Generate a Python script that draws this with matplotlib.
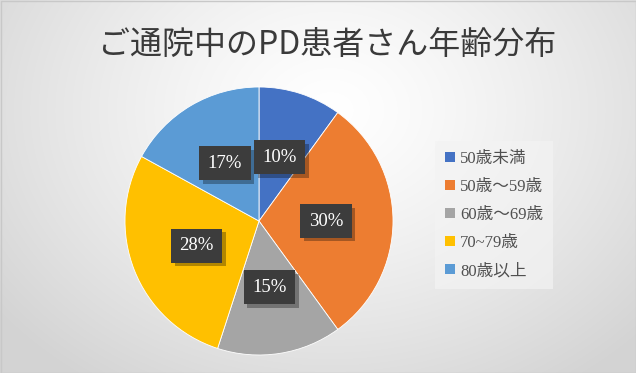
import numpy as np
import matplotlib
matplotlib.use("Agg")
import matplotlib.pyplot as plt
from matplotlib.patches import Patch, Rectangle
import matplotlib.patheffects as pe

title = "ご通院中のPD患者さん年齢分布"
categories = ["50歳未満", "50歳～59歳", "60歳～69歳", "70~79歳", "80歳以上"]
values = [10, 30, 15, 28, 17]
labels = ["10%", "30%", "15%", "28%", "17%"]
colors = ["#4472C4", "#ED7D31", "#A5A5A5", "#FFC000", "#5B9BD5"]

W, H = 636, 373
fig = plt.figure(figsize=(W / 100, H / 100), dpi=100)

# background radial gradient
bg = fig.add_axes([0, 0, 1, 1])
yy, xx = np.mgrid[0:H, 0:W]
cx, cy = 330, 110
d = np.sqrt(((xx - cx) / 420.0) ** 2 + ((yy - cy) / 330.0) ** 2)
d = np.clip(d, 0, 1)
val = 1.0 - 0.17 * d ** 1.3
img = np.dstack([val, val, val])
bg.imshow(img, extent=[0, W, H, 0], aspect="auto", interpolation="bilinear")
bg.set_xlim(0, W)
bg.set_ylim(H, 0)
bg.axis("off")
bg.add_patch(Rectangle((0.5, 0.5), W - 1, H - 1, fill=False, ec="#c8c8c8", lw=1))

# title
fig.text(327 / W, 1 - 45 / H, title, ha="center", va="center", fontsize=23,
         color="#3a3a3a", family=["Noto Sans CJK JP", "DejaVu Sans"])

# pie
cxp, cyp, r = 259, 221, 134
ax = fig.add_axes([(cxp - r) / W, (H - cyp - r) / H, 2 * r / W, 2 * r / H])
wedges, _ = ax.pie(values, colors=colors, startangle=90, counterclock=False,
                   radius=1.0, wedgeprops=dict(linewidth=0.6, edgecolor="white"))
ax.set_xlim(-1, 1)
ax.set_ylim(-1, 1)
ax.set_aspect("equal")
ax.axis("off")

# labels
start = 90.0
total = float(sum(values))
for v, lab in zip(values, labels):
    span = 360.0 * v / total
    mid = np.deg2rad(start - span / 2)
    start -= span
    x, y = 0.5 * np.cos(mid), 0.5 * np.sin(mid)
    t = ax.text(x, y, lab, ha="center", va="center", fontsize=13.5, color="white",
                family=["Liberation Serif"],
                bbox=dict(boxstyle="square,pad=0.45", fc="#3c3c3c", ec="none"))
    t.get_bbox_patch().set_path_effects([
        pe.SimplePatchShadow(offset=(2.5, -2.5), shadow_rgbFace="black", alpha=0.3),
        pe.Normal()])

# legend
handles = [Patch(facecolor=c, edgecolor="none") for c in colors]
leg = fig.legend(handles, categories, loc="upper left",
                 bbox_to_anchor=(435 / W, 1 - 141 / H), borderaxespad=0,
                 prop={"family": ["Liberation Serif", "Noto Sans CJK JP"], "size": 12},
                 frameon=True, fancybox=False, handlelength=0.6, handleheight=0.6,
                 handletextpad=0.3, labelspacing=0.72, borderpad=0.6)
leg.get_frame().set_facecolor("#f3f3f3")
leg.get_frame().set_alpha(0.7)
leg.get_frame().set_edgecolor("none")
for t in leg.get_texts():
    t.set_color("#505050")

fig.savefig("out.png", dpi=100)
